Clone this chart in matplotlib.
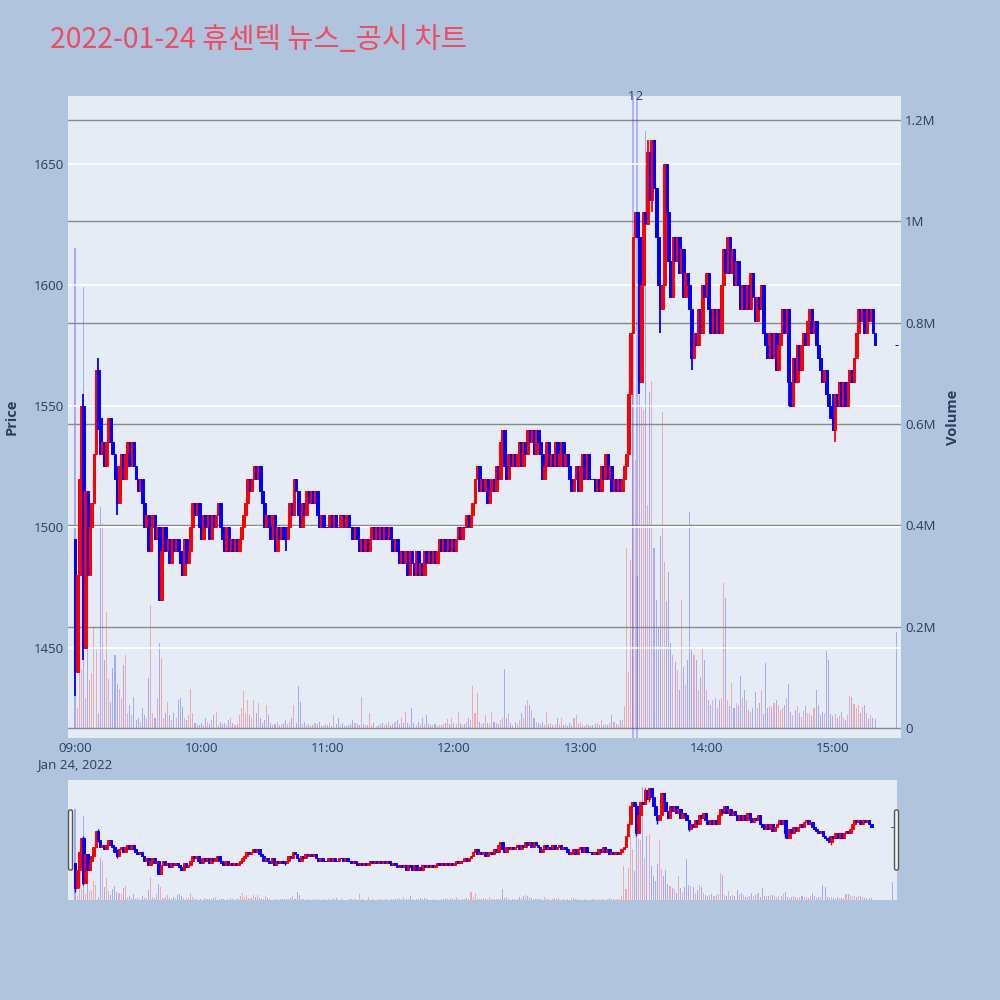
import matplotlib
matplotlib.use('Agg')
import matplotlib.pyplot as plt
import matplotlib.dates as mdates
from matplotlib.patches import FancyBboxPatch
from matplotlib.ticker import FuncFormatter
import pandas as pd

# 1-minute closes from 09:00 to 15:20 (KRW)
closes = [
    1440, 1480, 1520, 1550, 1450, 1515, 1480, 1500, 1510, 1530,
    1565, 1545, 1530, 1535, 1525, 1535, 1545, 1535, 1530, 1520,
    1510, 1525, 1530, 1520, 1530, 1535, 1525, 1535, 1525, 1520,
    1515, 1520, 1510, 1500, 1505, 1490, 1500, 1505, 1495, 1500,
    1470, 1490, 1500, 1490, 1495, 1485, 1495, 1490, 1495, 1490,
    1485, 1480, 1495, 1485, 1490, 1500, 1510, 1505, 1510, 1500,
    1495, 1505, 1500, 1505, 1495, 1505, 1500, 1505, 1510, 1500,
    1495, 1490, 1500, 1490, 1495, 1490, 1495, 1490, 1495, 1500,
    1505, 1510, 1520, 1515, 1520, 1525, 1520, 1525, 1515, 1510,
    1500, 1505, 1500, 1495, 1505, 1490, 1500, 1495, 1500, 1495,
    1495, 1500, 1510, 1505, 1520, 1515, 1505, 1500, 1510, 1505,
    1515, 1510, 1515, 1510, 1515, 1505, 1500, 1505, 1500, 1500,
    1500, 1505, 1500, 1505, 1500, 1500, 1505, 1505, 1500, 1505,
    1500, 1500, 1495, 1500, 1495, 1490, 1495, 1490, 1495, 1490,
    1495, 1500, 1495, 1500, 1495, 1500, 1495, 1500, 1495, 1500,
    1495, 1490, 1495, 1490, 1485, 1490, 1485, 1490, 1480, 1490,
    1485, 1480, 1490, 1480, 1485, 1480, 1490, 1485, 1490, 1485,
    1490, 1485, 1490, 1495, 1490, 1495, 1490, 1495, 1490, 1495,
    1490, 1495, 1500, 1495, 1500, 1500, 1505, 1500, 1505, 1510,
    1520, 1525, 1515, 1520, 1515, 1520, 1510, 1515, 1520, 1515,
    1525, 1520, 1535, 1540, 1525, 1520, 1530, 1525, 1530, 1525,
    1530, 1535, 1525, 1535, 1530, 1540, 1535, 1540, 1530, 1540,
    1535, 1530, 1520, 1525, 1535, 1525, 1530, 1525, 1535, 1525,
    1530, 1535, 1525, 1530, 1525, 1520, 1515, 1520, 1525, 1515,
    1525, 1530, 1520, 1530, 1520, 1520, 1520, 1515, 1520, 1515,
    1525, 1520, 1530, 1520, 1525, 1515, 1520, 1515, 1520, 1515,
    1520, 1525, 1530, 1555, 1580, 1620, 1630, 1620, 1560, 1600,
    1630, 1625, 1655, 1635, 1660, 1640, 1620, 1600, 1590, 1600,
    1650, 1630, 1610, 1595, 1620, 1610, 1620, 1605, 1615, 1595,
    1605, 1600, 1590, 1570, 1580, 1575, 1590, 1580, 1600, 1595,
    1605, 1590, 1580, 1590, 1580, 1590, 1580, 1600, 1615, 1605,
    1620, 1605, 1615, 1600, 1610, 1600, 1590, 1600, 1590, 1600,
    1590, 1605, 1595, 1585, 1595, 1590, 1600, 1580, 1575, 1570,
    1580, 1570, 1580, 1565, 1575, 1580, 1590, 1580, 1590, 1560,
    1550, 1570, 1560, 1575, 1565, 1575, 1580, 1575, 1585, 1590,
    1580, 1585, 1575, 1570, 1565, 1560, 1565, 1555, 1550, 1545,
    1540, 1555, 1550, 1560, 1550, 1560, 1550, 1560, 1565, 1560,
    1570, 1580, 1590, 1585, 1590, 1580, 1590, 1585, 1590, 1580, 1575,
]
first_open = 1495

# minute volume, thousands of shares
volumes_k = [
    948, 40, 120, 114, 870, 60, 217, 95, 108, 197,
    154, 30, 437, 404, 134, 229, 97, 51, 118, 144,
    87, 77, 60, 124, 144, 30, 45, 25, 62, 15,
    20, 12, 39, 25, 20, 99, 243, 30, 20, 59,
    168, 138, 20, 30, 51, 25, 15, 30, 20, 55,
    60, 41, 20, 15, 25, 77, 30, 10, 8, 5,
    10, 5, 20, 12, 8, 15, 25, 32, 5, 12,
    8, 10, 5, 15, 20, 10, 5, 8, 25, 40,
    73, 30, 55, 25, 20, 55, 30, 50, 20, 10,
    15, 45, 25, 10, 5, 8, 12, 5, 8, 10,
    15, 8, 12, 20, 45, 10, 83, 51, 8, 12,
    5, 8, 3, 5, 10, 8, 12, 5, 3, 8,
    5, 10, 3, 25, 8, 20, 5, 10, 3, 5,
    5, 8, 15, 10, 8, 5, 61, 8, 5, 5,
    29, 5, 10, 3, 5, 8, 10, 5, 8, 12,
    5, 8, 12, 15, 8, 20, 10, 32, 10, 8,
    40, 10, 5, 12, 8, 20, 8, 26, 10, 5,
    5, 8, 3, 5, 5, 8, 10, 18, 8, 20,
    10, 8, 32, 10, 5, 8, 12, 20, 15, 83,
    30, 69, 12, 8, 10, 26, 10, 8, 32, 12,
    10, 8, 15, 20, 116, 20, 30, 10, 5, 12,
    8, 15, 30, 20, 45, 55, 45, 35, 20, 12,
    10, 8, 12, 5, 32, 8, 10, 5, 8, 20,
    8, 20, 5, 8, 3, 10, 5, 20, 26, 8,
    12, 5, 3, 8, 5, 3, 5, 8, 10, 5,
    15, 5, 8, 5, 10, 26, 12, 8, 5, 15,
    15, 43, 355, 110, 332, 681, 529, 300, 657, 634,
    628, 1178, 440, 663, 685, 355, 253, 200, 379, 624,
    328, 250, 308, 168, 144, 130, 115, 75, 253, 120,
    85, 134, 426, 154, 144, 134, 75, 100, 160, 134,
    75, 55, 45, 55, 59, 40, 55, 60, 286, 257,
    55, 43, 89, 39, 50, 45, 103, 60, 75, 55,
    36, 32, 40, 71, 39, 50, 75, 28, 128, 40,
    43, 41, 50, 55, 45, 35, 39, 45, 60, 87,
    32, 26, 36, 43, 30, 22, 34, 43, 30, 30,
    24, 40, 75, 45, 26, 32, 30, 152, 134, 28,
    24, 28, 20, 24, 32, 20, 16, 25, 63, 61,
    47, 39, 45, 30, 41, 45, 30, 18, 25, 20, 18,
]

# wick extremes where they go beyond the body: minute -> (high, low)
wicks = {0: (1495, 1430), 2: (1520, 1440), 4: (1555, 1445), 11: (1570, 1540),
         20: (1525, 1505), 40: (1500, 1470), 100: (1500, 1490),
         268: (1625, 1555), 272: (1660, 1625), 274: (1660, 1630),
         278: (1600, 1580), 293: (1590, 1565), 339: (1590, 1550),
         360: (1555, 1540), 361: (1555, 1535)}

# closing auction 15:30
close_auction_price = 1575
close_auction_vol_k = 190

# news items
news_times = ['2022-01-24 13:25', '2022-01-24 13:27']
news_labels = ['1', '2']

title = '2022-01-24 휴센텍 뉴스_공시 차트'

# ---- build candles ----
times = list(pd.date_range('2022-01-24 09:00', periods=len(closes), freq='min'))
opens = [first_open] + closes[:-1]
highs = [max(o, c) for o, c in zip(opens, closes)]
lows = [min(o, c) for o, c in zip(opens, closes)]
for m, (h, l) in wicks.items():
    highs[m] = h
    lows[m] = l
times.append(pd.Timestamp('2022-01-24 15:30'))
opens.append(close_auction_price)
closes = closes + [close_auction_price]
highs.append(close_auction_price)
lows.append(close_auction_price)
vols = [v * 1000 for v in volumes_k] + [close_auction_vol_k * 1000]
up = [c > o for o, c in zip(opens, closes)]

x = mdates.date2num(times)
one_min = 1 / 1440
up_col, dn_col = '#FF0000', '#0000FF'
colors = [up_col if u else dn_col for u in up]
vcolors = [(1, 0, 0, 0.28) if u else (0, 0, 1, 0.28) for u in up]

plt.rcParams['font.family'] = ['Open Sans', 'Noto Sans CJK KR', 'DejaVu Sans']
fig = plt.figure(figsize=(10, 10), dpi=100)
fig.patch.set_facecolor('#B0C4DE')

xmin = mdates.date2num(pd.Timestamp('2022-01-24 08:56:40'))
xmax = mdates.date2num(pd.Timestamp('2022-01-24 15:32:20'))
plim = (1412.8, 1678.1)
vlim = (-19700, 1247400)
txt = '#2a3f5f'


def draw(axp, axv, body_w, wick_lw, bar_w):
    axv.bar(x, vols, width=bar_w * one_min, color=vcolors, linewidth=0)
    axp.vlines(x, lows, highs, colors=colors, linewidth=wick_lw)
    axp.bar(x, [c - o for o, c in zip(opens, closes)], bottom=opens,
            width=body_w * one_min, color=colors, edgecolor=colors, linewidth=0.7)


# ---- main chart ----
axv = fig.add_axes([0.068, 0.262, 0.833, 0.642])
axp = axv.twinx()
axp.set_zorder(axv.get_zorder() + 1)
axp.patch.set_visible(False)
axv.set_facecolor('#E5ECF6')
draw(axp, axv, 1.35, 1.3, 0.5)

for t in news_times:
    axv.axvline(mdates.date2num(pd.Timestamp(t)), color=(0, 0, 1, 0.28), linewidth=1.2)
mid = mdates.date2num(pd.Timestamp('2022-01-24 13:26'))
for lab, side in zip(news_labels, ['right', 'left']):
    axp.text(mid, 1.0, lab, transform=axp.get_xaxis_transform(), ha=side,
             va='center', fontsize=9, color=txt)

axp.set_xlim(xmin, xmax)
axv.set_xlim(xmin, xmax)
axp.set_ylim(*plim)
axv.set_ylim(*vlim)

# price on the left, volume on the right
axp.yaxis.tick_left()
axv.yaxis.tick_right()
axp.set_yticks([1450, 1500, 1550, 1600, 1650])
axv.set_yticks([0, 200000, 400000, 600000, 800000, 1000000, 1200000])
axv.yaxis.set_major_formatter(FuncFormatter(
    lambda v, p: '0' if v == 0 else f'{v / 1e6:.1f}'.rstrip('0').rstrip('.') + 'M'))
axp.grid(axis='y', color='white', linewidth=1.2)
axv.grid(axis='y', color='#8a8a8a', linewidth=1.0)
axv.grid(axis='x', visible=False)
axp.set_axisbelow(True)
for a in (axp, axv):
    for s in a.spines.values():
        s.set_visible(False)
    a.tick_params(length=0, labelsize=9.5, colors=txt, pad=3)

hours = pd.date_range('2022-01-24 09:00', '2022-01-24 15:00', freq='h')
axv.set_xticks(mdates.date2num(hours))
axv.set_xticklabels(['09:00\nJan 24, 2022'] + [h.strftime('%H:%M') for h in hours[1:]],
                    linespacing=1.3)
axp.tick_params(axis='x', labelbottom=False)

fig.text(0.012, 0.583, 'Price', rotation=90, ha='center', va='center',
         fontsize=10.5, fontweight='bold', color=txt)
fig.text(0.953, 0.583, 'Volume', rotation=90, ha='center', va='center',
         fontsize=10.5, fontweight='bold', color=txt)
fig.text(0.05, 0.96, title, ha='left', va='center', fontsize=20.5,
         color='#EF4B63', family=['Noto Sans CJK KR', 'DejaVu Sans'])

# ---- range slider ----
sv = fig.add_axes([0.068, 0.100, 0.829, 0.120])
sp = sv.twinx()
sp.set_zorder(sv.get_zorder() + 1)
sp.patch.set_visible(False)
sv.set_facecolor('#E5ECF6')
draw(sp, sv, 1.3, 1.0, 0.5)
sv.set_xlim(xmin, xmax)
sp.set_xlim(xmin, xmax)
sp.set_ylim(*plim)
sv.set_ylim(0, 1250000)
for a in (sp, sv):
    a.set_xticks([])
    a.set_yticks([])
    for s in a.spines.values():
        s.set_visible(False)

for hx in (0.0685, 0.8945):
    fig.patches.append(FancyBboxPatch((hx, 0.130), 0.004, 0.060,
                                      boxstyle='round,pad=0,rounding_size=0.0015',
                                      transform=fig.transFigure, facecolor='#f2f2f2',
                                      edgecolor='#555555', linewidth=1.0))

fig.savefig('out.png', dpi=100, facecolor=fig.get_facecolor())
